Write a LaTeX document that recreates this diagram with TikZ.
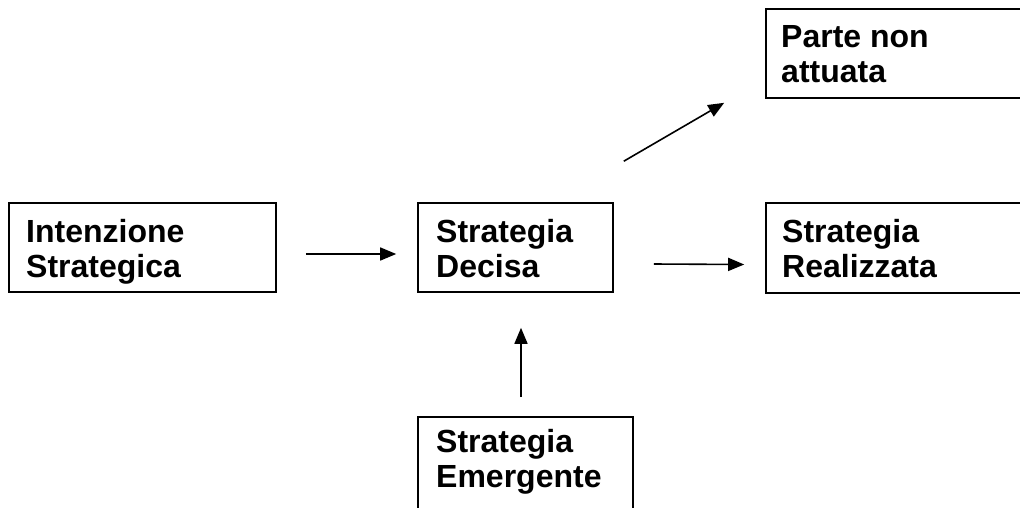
\documentclass[tikz,border=0pt]{standalone}
\usepackage{fontspec}
\setmainfont{Liberation Sans}
\usetikzlibrary{arrows.meta}
\begin{document}
\begin{tikzpicture}[x=1pt,y=-1pt,
  box/.style={draw=black,line width=1.6pt,inner sep=0pt},
  txt/.style={anchor=north west,inner sep=0pt,align=left,font=\fontsize{32}{35.6}\selectfont\bfseries},
  arr/.style={line width=1.6pt,-{Triangle[length=16pt,width=13pt]}}]
\clip (0,0) rectangle (1020,507);
\fill[white] (0,0) rectangle (1020,507);
% boxes
\node[box,minimum width=267pt,minimum height=89pt] (int) at (142.5,247.5) {};
\node[box,minimum width=195pt,minimum height=89pt] (dec) at (515.5,247.5) {};
\node[box,minimum width=264pt,minimum height=90pt] (real) at (898,248) {};
\node[box,minimum width=264pt,minimum height=89pt] (parte) at (898,53.5) {};
\node[box,minimum width=215pt,minimum height=100pt] (emer) at (525.5,467) {};
% texts
\node[txt] (tint) at (26,219) {Intenzione\\Strategica};
\node[txt] (tdec) at (436,219) {Strategia\\Decisa};
\node[txt] (treal) at (782,219) {Strategia\\Realizzata};
\node[txt] (tparte) at (781,25) {Parte non\\attuata};
\node[txt] (temer) at (436,429) {Strategia\\Emergente};
% arrows
\draw[arr] ([xshift=29pt,yshift=-6.5pt]int.east) -- ([xshift=-21pt,yshift=-6.5pt]dec.west);
\draw[arr] ([xshift=40pt,yshift=-16.5pt]dec.east) -- ([xshift=-21pt,yshift=-16.5pt]real.west);
\draw[arr] ([xshift=-4.5pt,yshift=19pt]emer.north) -- ([xshift=5.5pt,yshift=-35pt]dec.south);
\draw[arr] ([xshift=10pt,yshift=41pt]dec.north east) -- ([xshift=-41pt,yshift=-4pt]parte.south west);
\end{tikzpicture}
\end{document}
